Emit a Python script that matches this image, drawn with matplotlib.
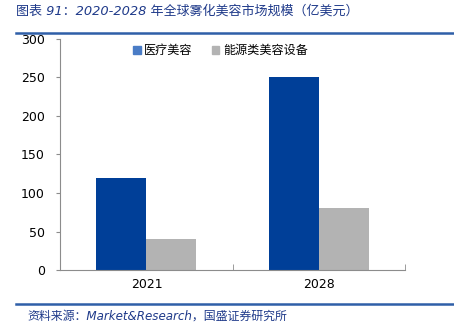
import matplotlib
matplotlib.use("Agg")
import matplotlib.pyplot as plt
from matplotlib.patches import Patch
import numpy as np

# data
years = ["2021", "2028"]
medical = [120, 250]
devices = [40, 80]
series_names = ["医疗美容", "能源类美容设备"]
y_ticks = [0, 50, 100, 150, 200, 250, 300]

title = "图表 91：2020-2028 年全球雾化美容市场规模（亿美元）"
source = "资料来源：Market&Research，国盛证券研究所"

plt.rcParams["font.family"] = ["DejaVu Sans", "Noto Sans CJK SC"]

BLUE = "#003f98"
LEGEND_BLUE = "#4a7cc6"
GRAY = "#b3b3b3"
TEXT_BLUE = "#1f3a8a"
LINE_BLUE = "#2f5fa8"

fig = plt.figure(figsize=(4.54, 3.29), dpi=100)
ax = fig.add_axes([0.1328, 0.1793, 0.7592, 0.7022])

x = np.arange(len(years))
w = 0.29
ax.bar(x - w / 2, medical, width=w, color=BLUE)
ax.bar(x + w / 2, devices, width=w, color=GRAY)

ax.set_xlim(-0.5, len(years) - 0.5)
ax.set_ylim(0, 300)
ax.set_yticks(y_ticks)
ax.set_xticks(x)
ax.set_xticklabels(years)
ax.set_xticks(np.arange(len(years) + 1) - 0.5, minor=True)

for s in ["top", "right"]:
    ax.spines[s].set_visible(False)
for s in ["left", "bottom"]:
    ax.spines[s].set_color("#8c8c8c")
    ax.spines[s].set_linewidth(0.8)

ax.tick_params(axis="y", direction="out", length=3, color="#8c8c8c", labelsize=9, pad=8)
ax.tick_params(axis="x", which="major", length=0, labelsize=9, pad=6)
ax.tick_params(axis="x", which="minor", direction="in", length=4, color="#8c8c8c")

handles = [Patch(color=LEGEND_BLUE), Patch(color=GRAY)]
leg = ax.legend(handles, series_names, ncol=2, frameon=False,
                loc="center", bbox_to_anchor=(0.465, 0.95),
                handlelength=0.6, handleheight=0.6, handletextpad=0.3,
                columnspacing=1.6, prop={"family": ["Noto Sans CJK SC"], "size": 8.7})

fig.text(0.035, 0.965, title, ha="left", va="center", fontsize=9.4,
         style="italic", color=TEXT_BLUE)
fig.add_artist(plt.Line2D([0.035, 1.0], [0.9, 0.9], color=LINE_BLUE, lw=1.8))
fig.add_artist(plt.Line2D([0.035, 1.0], [0.077, 0.077], color=LINE_BLUE, lw=1.8))
fig.text(0.06, 0.04, source, ha="left", va="center", fontsize=8.6,
         style="italic", color=TEXT_BLUE)

fig.savefig("out.png", dpi=100)
